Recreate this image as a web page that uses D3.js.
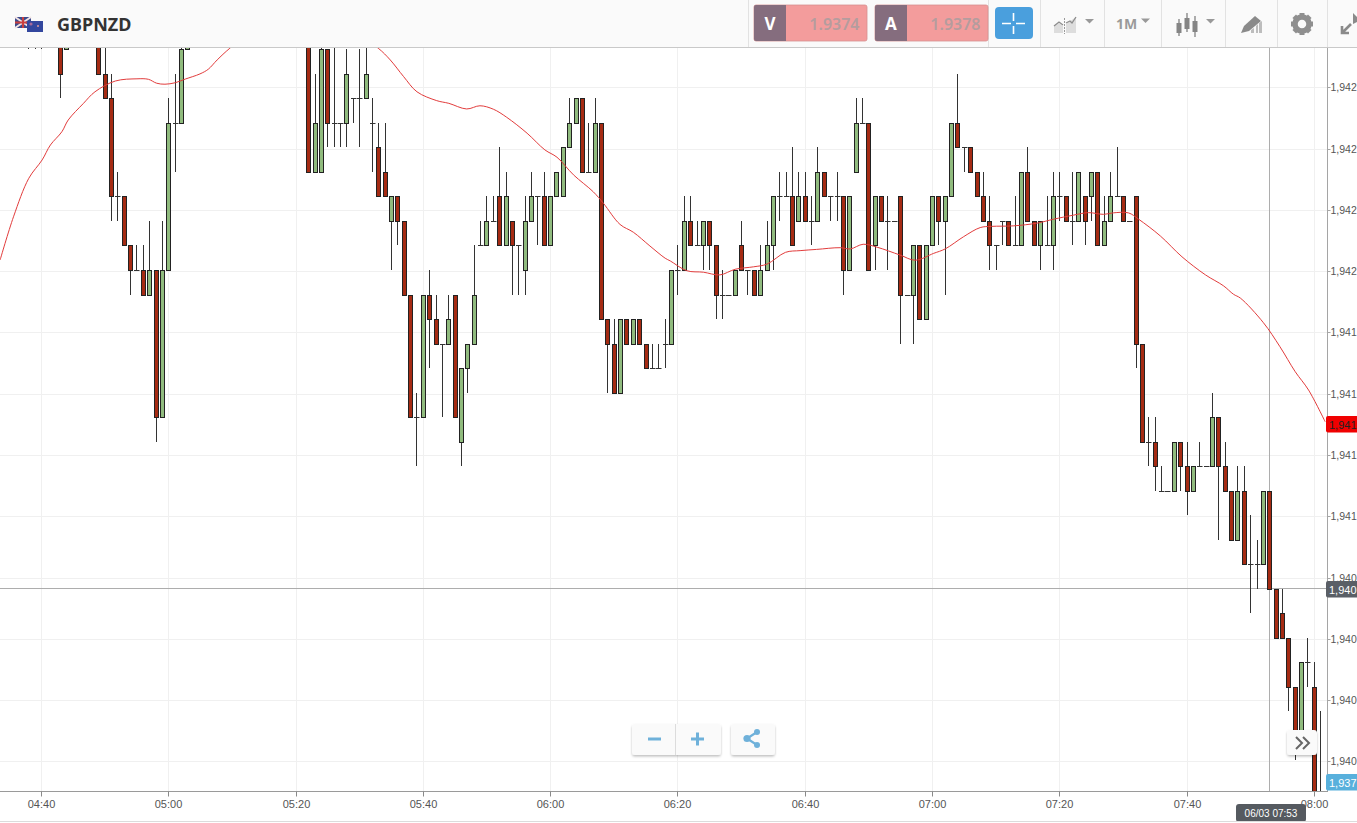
<!DOCTYPE html>
<html><head><meta charset="utf-8">
<script src="https://cdn.jsdelivr.net/npm/d3@7/dist/d3.min.js"></script>
<style>html,body{margin:0;padding:0;background:#fff;overflow:hidden}svg{display:block}text{font-family:"Liberation Sans",Arial,sans-serif}</style>
</head><body><svg id="c" width="1357" height="823"></svg>
<script>
// Minutes after 04:40 on 06/03 (1M candles); prices are pips above 1.9400
const minutes=[-2,-1,0,3,4,9,10,11,12,13,
14,15,16,17,18,19,20,21,22,23,
42,43,44,45,46,47,48,49,50,51,
52,53,54,55,56,57,58,59,60,61,
62,63,64,65,66,67,68,69,70,71,
72,73,74,75,76,77,78,79,80,81,
82,83,84,85,86,87,88,89,90,91,
92,93,94,95,96,97,98,99,100,101,
102,103,104,105,106,107,108,109,110,111,
112,113,114,115,116,117,118,119,120,121,
122,123,124,125,126,127,128,129,130,131,
132,133,134,135,136,137,138,139,140,141,
142,143,144,145,146,147,148,149,150,151,
152,153,154,155,156,157,158,159,160,161,
162,163,164,165,166,167,168,169,170,171,
172,173,174,175,176,177,178,179,180,181,
182,183,184,185,186,187,188,189,190,191,
192,193,194,195,196,197,198,199,200,201];
const opens=[30.5,30.5,30.5,31,29,31,28,27,23,23,
21,20,20,19,20,14,20,26,26,29,
31,24,24,29,26,26,26,27,27,27,
26,25,24,22,23,22,19,14,14,19,
18,17,17,19,13,16,17,21,21,22,
23,21,22,21,20,22,23,23,21,23,
23,25,26,27,24,24,26,18,17,15,
18,17,18,17,16,16,17,17,20,20,
22,21,21,22,21,19,19,19,21,20,
20,19,20,21,23,23,23,22,23,22,
22,24,23,23,23,20,24,26,26,21,
23,22,22,23,19,19,21,18,21,23,
22,23,26,25,25,24,23,22,21,22,
22,21,21,24,22,21,21,21,23,23,
22,22,23,23,24,21,22,23,23,22,
23,17,13,13,11,11,11,13,12,11,
12,12,12,14,12,11,9,11,8,8,
8,11,7,6,5,3,1,4,3,-3];
const closes=[30.5,30.5,30.5,28,31,28,27,23,23,21,
20,20,19,20,14,20,26,26,29,31,
24,26,29,26,26,26,28,27,27,28,
26,23,23,23,22,19,14,14,19,18,
17,17,18,14,16,17,19,21,22,22,
21,23,21,21,22,23,23,21,23,24,
25,26,27,24,24,26,18,17,15,18,
17,18,17,16,16,16,17,20,20,22,
21,21,22,21,19,19,19,20,20,20,
19,20,21,23,23,23,21,23,22,22,
24,23,23,23,20,23,26,26,20,23,
22,22,22,19,19,21,18,21,23,22,
23,26,25,25,24,23,22,21,21,22,
21,21,24,22,21,22,21,23,23,22,
22,24,22,24,21,22,23,23,22,22,
17,13,13,12,11,11,13,12,11,12,
12,12,14,12,11,9,11,8,8,8,
11,7,5,5,3,1,4,4,-2,-3];
const highs=[31,31,31,31,31,31,31,28,24,23,
21,21,21,22,20,22,27,28,31,31,
31,28,31,29,31,26,29,27,29,31,
27,26,26,23,23,22,19,15,19,20,
19,17,19,19,16,17,21,22,23,23,
25,24,22,21,23,24,23,24,23,24,
25,27,27,27,26,27,26,18,18,18,
18,18,18,17,17,17,18,20,21,23,
23,22,22,22,21,20,19,20,22,20,
20,21,22,23,24,24,25,24,24,23,
25,24,23,24,23,23,27,27,26,23,
23,23,22,23,19,21,21,21,23,23,
23,26,28,25,25,24,24,23,21,22,
22,23,24,25,22,22,23,24,24,23,
24,24,23,24,24,23,24,25,23,22,
23,17,14,14,12,11,13,13,13,12,
13,12,15,14,13,11,12,12,10,9,
11,11,7,7,5,3,4,5,4,2];
const lows=[29,29,29,27,29,28,27,22,22,21,
19,20,19,19,13,14,20,24,26,29,
24,24,24,25,25,25,25,26,25,27,
24,23,23,20,21,19,14,12,14,16,
17,14,17,14,12,15,17,21,21,22,
21,21,19,19,19,22,21,21,21,23,
23,25,26,24,24,24,18,15,15,15,
17,17,17,16,16,16,16,17,19,20,
21,21,20,20,18,18,19,19,20,19,
19,19,20,20,22,23,21,22,22,21,
22,23,22,22,19,20,24,26,20,20,
22,20,22,17,19,17,18,18,21,21,
19,23,25,24,24,23,22,20,20,21,
21,21,21,22,21,20,21,20,22,22,
21,22,21,22,21,21,22,23,22,22,
16,13,12,11,11,11,11,11,10,11,
12,12,12,9,11,9,9,8,6,7,
8,7,5,5,2,0,1,3,-2,-3];
// Moving average
const maMinutes=[-6.5,-4.4,-2,0.1,1.4,3.2,4.2,6.6,8.4,11.6,15,16.8,18.1,19.4,21,22.6,24.9,26.2,27.6,29.6,34.4,40.7,48.5,52.9,54.8,56.9,59,62.1,64,66.8,68.9,71,73.1,76.3,79.1,81,83.6,86.7,88.3,90.9,93,95.6,98,98.8,101.4,104,106.6,109,111.9,114,116.9,119.2,121.8,125.5,127.1,129.1,131.3,134.9,137.3,140.2,142,144.9,147.5,149.3,152.7,156.4,159,162.2,164.5,166.9,168.4,170.8,172.4,175.8,179.2,182.9,185.7,187.3,188.4,192,194.6,197,199.1,201.7];
const maValues=[20.41,22.17,23.74,24.49,25.1,25.64,26.12,26.8,27.27,27.71,27.8,27.78,27.62,27.58,27.64,27.79,28,28.19,28.57,29.05,30,30.4,29.8,29.05,28.57,27.89,27.27,26.91,26.8,26.57,26.7,26.56,26.23,25.58,24.9,24.6,23.88,23.19,22.72,21.86,21.54,20.98,20.48,20.37,19.97,19.91,19.8,20.03,20.13,20.24,20.72,20.79,20.84,20.91,20.86,21.05,20.93,20.61,20.4,20.68,20.86,21.36,21.73,21.78,21.8,21.91,22.07,22.24,22.34,22.27,22.33,22.33,22.07,21.39,20.54,19.8,19.36,19.01,18.85,17.85,16.87,15.85,15.1,13.81];
const priceTicks=[-0.07,2.43,4.93,7.43,9.93,12.43,14.93,17.43,19.93,22.43,24.93,27.43];
const priceTickLabels=["1,940","1,940","1,940","1,940","1,941","1,941","1,941","1,941","1,942","1,942","1,942","1,942"];
const symbol="GBPNZD", bidQuote="1.9374", askQuote="1.9378", crossDate="06/03 07:53";
const maPriceLabel="1,941", crossPriceLabel="1,940", lastPriceLabel="1,937";
const maLabelLevel=13.7, crossLevel=7.0, lastLevel=-0.9, crossMinute=193;

const W=1357,H=823,plotR=1328,plotT=47,plotB=791;
const t0=Date.UTC(2018,5,3,4,40);
const tm=m=>new Date(t0+m*60000);
const x=d3.scaleUtc().domain([tm(-6.521),tm(202.15)]).range([0,plotR]);
const y=d3.scaleLinear().domain([-1.257,29.098]).range([plotB,plotT]);
const px=m=>Math.floor(x(tm(m)))+.5;
const py=v=>Math.round(y(v));
const svg=d3.select("#c");
const defs=svg.append("defs");
defs.append("clipPath").attr("id","plot").append("rect").attr("x",0).attr("y",plotT).attr("width",plotR).attr("height",plotB-plotT);
const sh=defs.append("filter").attr("id","sh").attr("x","-20%").attr("y","-20%").attr("width","140%").attr("height","150%");
sh.append("feDropShadow").attr("dx",0).attr("dy",1.5).attr("stdDeviation",1.2).attr("flood-color","#000").attr("flood-opacity",.25);

// grid
const timeTicks=d3.utcMinute.every(20).range(tm(-6),tm(201));
const grid=svg.append("g").attr("stroke","#f0f0f0").attr("stroke-width",1);
const gridY=d=>Math.floor(y(d))+.5;
grid.selectAll(".v").data(timeTicks).join("line").attr("x1",d=>Math.floor(x(d))+.5).attr("x2",d=>Math.floor(x(d))+.5).attr("y1",plotT).attr("y2",plotB);
grid.selectAll(".h").data(priceTicks).join("line").attr("x1",0).attr("x2",plotR).attr("y1",gridY).attr("y2",gridY);

// axes
const xAxis=d3.axisBottom(x).tickValues(timeTicks).tickFormat(d3.utcFormat("%H:%M")).tickSize(5).tickPadding(4);
const gx=svg.append("g").attr("transform",`translate(0,${plotB+.5})`).call(xAxis);
gx.select(".domain").attr("stroke","#9a9a9a").attr("d",`M0,0H${plotR}`);
gx.selectAll(".tick").attr("transform",d=>`translate(${Math.floor(x(d))+.5},0)`);
gx.selectAll("line").attr("stroke","#8a8a8a");
gx.selectAll("text").attr("fill","#555").style("font-size","11px").style("font-family","'Liberation Sans'");
const yAxis=d3.axisRight(y).tickValues(priceTicks).tickFormat((d,i)=>priceTickLabels[i]).tickSize(3).tickPadding(0);
const gy=svg.append("g").attr("transform",`translate(${plotR-.5},0)`).call(yAxis);
gy.select(".domain").attr("stroke","#a5a5a5").attr("d",`M0,${plotT}V${plotB}`);
gy.selectAll(".tick").attr("transform",d=>`translate(0,${gridY(d)})`);
gy.selectAll("line").attr("stroke","#a5a5a5");
gy.selectAll("text").attr("fill","#555").style("font-size","10.5px").style("font-family","'Liberation Sans'");

// crosshair
const cy=Math.round(y(crossLevel))+.5, cx=px(crossMinute);
svg.append("line").attr("x1",0).attr("x2",plotR).attr("y1",cy-1).attr("y2",cy-1).attr("stroke","#adadad");
svg.append("line").attr("x1",cx).attr("x2",cx).attr("y1",plotT).attr("y2",plotB).attr("stroke","#adadad");

// candles
const candles=minutes.map((m,i)=>({m,o:opens[i],c:closes[i],h:highs[i],l:lows[i]}));
const plot=svg.append("g").attr("clip-path","url(#plot)");
const cg=plot.selectAll("g.c").data(candles).join("g").attr("class","c");
cg.append("line").attr("x1",d=>px(d.m)).attr("x2",d=>px(d.m)).attr("y1",d=>py(d.h)).attr("y2",d=>py(d.l)).attr("stroke","#333");
cg.filter(d=>d.o===d.c).append("line").attr("x1",d=>px(d.m)-2.5).attr("x2",d=>px(d.m)+3).attr("y1",d=>py(d.o)+.5).attr("y2",d=>py(d.o)+.5).attr("stroke","#333");
cg.filter(d=>d.o!==d.c).append("rect")
  .attr("x",d=>px(d.m)-2).attr("width",4)
  .attr("y",d=>py(Math.max(d.o,d.c))+.5).attr("height",d=>py(Math.min(d.o,d.c))-py(Math.max(d.o,d.c)))
  .attr("fill",d=>d.c>d.o?"#90bb7e":"#a52b13").attr("stroke","#222").attr("stroke-width",1);

// moving average
const ma=maMinutes.map((m,i)=>[m,maValues[i]]);
plot.append("path").attr("d",d3.line().x(d=>x(tm(d[0]))).y(d=>y(d[1])).curve(d3.curveCatmullRom)(ma)).attr("fill","none").attr("stroke","#e23c3c").attr("stroke-width",1);

// price tags
function tag(level,fill,txt,label){
  const c=Math.round(y(level));
  const g=svg.append("g");
  g.append("rect").attr("x",1326).attr("y",c-8).attr("width",40).attr("height",16.5).attr("rx",2).attr("fill",fill);
  g.append("text").attr("x",1329).attr("y",c+4.5).attr("fill",txt).style("font-size","11px").text(label);
}
tag(maLabelLevel,"#f00000","#222",maPriceLabel);
tag(crossLevel,"#5a5f66","#fff",crossPriceLabel);
tag(lastLevel,"#58b0dc","#fff",lastPriceLabel);

// date tooltip
svg.append("rect").attr("x",1236).attr("y",804).attr("width",70).attr("height",18).attr("rx",3).attr("fill","#555a60");
svg.append("text").attr("x",1271).attr("y",816.5).attr("text-anchor","middle").attr("fill","#fff").style("font-size","10px").text(crossDate);
svg.append("line").attr("x1",0).attr("x2",W).attr("y1",821.5).attr("y2",821.5).attr("stroke","#dcdcdc");

// toolbar
const tb=svg.append("g");
tb.append("rect").attr("width",W).attr("height",47).attr("fill","#fafafa");
tb.append("line").attr("x1",0).attr("x2",W).attr("y1",47.5).attr("y2",47.5).attr("stroke","#c9c9c9");
[748,988,1040,1104,1161,1225,1277,1327].forEach(v=>tb.append("line").attr("x1",v+.5).attr("x2",v+.5).attr("y1",0).attr("y2",47).attr("stroke","#e2e2e2"));
// flags
const fl=tb.append("g");
fl.append("rect").attr("x",15).attr("y",17).attr("width",16).attr("height",11).attr("fill","#3c4a8c");
fl.append("path").attr("d","M15,17L31,28M31,17L15,28").attr("stroke","#f2e3e3").attr("stroke-width",2);
fl.append("path").attr("d","M23,17V28M15,22.5H31").attr("stroke","#c9403f").attr("stroke-width",2);
fl.append("rect").attr("x",27).attr("y",21).attr("width",16).attr("height",11).attr("fill","#33479e");
fl.append("circle").attr("cx",38).attr("cy",26).attr("r",1).attr("fill","#d99");
fl.append("circle").attr("cx",31).attr("cy",24).attr("r",1.6).attr("fill","#a56a9a");
tb.append("text").attr("x",57).attr("y",30.5).attr("fill","#333").style("font-family","'Noto Sans'").style("font-weight",700).style("font-size","18px").text(symbol);
// quote boxes
function quote(x0,letter,val){
  tb.append("rect").attr("x",x0).attr("y",5).attr("width",113).attr("height",36).attr("rx",2).attr("fill","#f39c9c").attr("stroke","#d58f8f").attr("stroke-width",.8);
  tb.append("path").attr("d",`M${x0+2},5H${x0+32}V41H${x0+2}a2,2 0 0 1 -2,-2V7a2,2 0 0 1 2,-2Z`).attr("fill","#856d7e");
  tb.append("text").attr("x",x0+16).attr("y",30).attr("text-anchor","middle").attr("fill","#fff").style("font-family","'Noto Sans'").style("font-weight",700).style("font-size","17px").text(letter);
  tb.append("text").attr("x",x0+105.5).attr("y",29.5).attr("text-anchor","end").attr("fill","#b59c9e").style("font-family","'Noto Sans'").style("font-weight",600).style("font-size","16px").text(val);
}
quote(754,"V",bidQuote); quote(875,"A",askQuote);
tb.append("rect").attr("x",995).attr("y",7).attr("width",38).attr("height",32).attr("rx",4).attr("fill","#4a9fdd");
tb.append("path").attr("d","M1002,23.5H1011M1016,23.5H1025M1013.5,13V21M1013.5,26V34").attr("stroke","#fff").attr("stroke-width",1.6);
// indicator icon
tb.append("path").attr("d","M1054,33V26L1059,23L1063,26V33ZM1066,33V24L1076,17V33Z").attr("fill","#dddddd");
tb.append("path").attr("d","M1054,26L1059,22L1063,25M1066,23L1070,21L1072,23L1076,17").attr("fill","none").attr("stroke","#8c8c8c").attr("stroke-width",1.3);
tb.append("line").attr("x1",1064.5).attr("x2",1064.5).attr("y1",18).attr("y2",34).attr("stroke","#999").attr("stroke-dasharray","2 1");
const tri=(a,b)=>tb.append("path").attr("d",`M${a},${b}h9l-4.5,4.5Z`).attr("fill","#999");
tri(1085,19); tri(1141,18.5); tri(1206,19);
tb.append("text").attr("x",1116).attr("y",29).attr("fill","#9a9a9a").style("font-family","'Noto Sans'").style("font-weight",700).style("font-size","14px").text("1M");
// candle icon
[[1179,19,36,23,33],[1187,13,32,18,29],[1195,16,37,21,32]].forEach(([a,hi,lo,bt,bb])=>{
  tb.append("line").attr("x1",a).attr("x2",a).attr("y1",hi).attr("y2",lo).attr("stroke","#777").attr("stroke-width",1.2);
  tb.append("rect").attr("x",a-2.5).attr("y",bt).attr("width",5).attr("height",bb-bt).attr("fill","#858585");
});
// pencil icon
tb.append("path").attr("d","M1241,33L1244,26L1255,16L1261,21L1249,31Z").attr("fill","#8a8a8a");
tb.append("path").attr("d","M1251,33V30L1254,28V33ZM1256,33V26L1258,24V33ZM1259,33V23L1262,21V33Z").attr("fill","#bdbdbd");
// gear
tb.append("circle").attr("cx",1302).attr("cy",24).attr("r",7).attr("fill","none").attr("stroke","#8f8f8f").attr("stroke-width",5.5);
d3.range(8).forEach(i=>tb.append("rect").attr("x",1299.5).attr("y",13).attr("width",5).attr("height",4).attr("fill","#8f8f8f").attr("transform",`rotate(${i*45} 1302 24)`));
// expand icon
tb.append("path").attr("d","M1342,33L1351,24M1342,26V33H1349").attr("fill","none").attr("stroke","#8a8a8a").attr("stroke-width",2.6);
tb.append("path").attr("d","M1353,13L1357,17V22L1353,24Z").attr("fill","#8a8a8a");

// zoom buttons
const ui=svg.append("g");
ui.append("rect").attr("x",632).attr("y",724).attr("width",89).attr("height",31).attr("rx",3).attr("fill","#fafafa").attr("filter","url(#sh)");
ui.append("line").attr("x1",675.5).attr("x2",675.5).attr("y1",724).attr("y2",755).attr("stroke","#dcdcdc");
ui.append("path").attr("d","M648,739H661M691,739H704M697.5,732.5V745.5").attr("stroke","#6fb1da").attr("stroke-width",3).attr("fill","none");
ui.append("rect").attr("x",731).attr("y",724).attr("width",44).attr("height",31).attr("rx",3).attr("fill","#fafafa").attr("filter","url(#sh)");
ui.append("path").attr("d","M757,732L747,738.5L757,745").attr("stroke","#6fb1da").attr("stroke-width",2.2).attr("fill","none");
[[757,732,3],[747,738.5,3.6],[757,745,3]].forEach(([a,b,r])=>ui.append("circle").attr("cx",a).attr("cy",b).attr("r",r).attr("fill","#6fb1da"));
ui.append("rect").attr("x",1287).attr("y",730).attr("width",30).attr("height",25).attr("rx",3).attr("fill","#fafafa").attr("filter","url(#sh)");
ui.append("path").attr("d","M1296,737L1302,743L1296,749M1303,737L1309,743L1303,749").attr("stroke","#666").attr("stroke-width",2).attr("fill","none");
</script></body></html>
